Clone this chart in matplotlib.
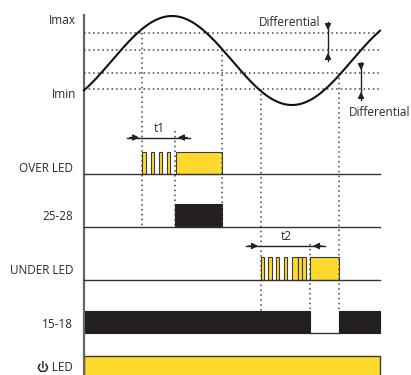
import numpy as np
import matplotlib
matplotlib.use("Agg")
import matplotlib.pyplot as plt
from matplotlib.patches import Rectangle, Arc
from matplotlib import font_manager
from matplotlib.ft2font import FT2Font

# timing of the diagram (time runs left -> right)
t_begin, t_end = 84, 380
t_peak, t_trough = 172, 292

# current levels (screen units, top = high current)
lvl_imax = 33
lvl_imax_off = 50
lvl_imin_off = 73
lvl_imin = 89
wave_high, wave_low = 16, 105

# switching instants
t_over = 142        # current passes Imax
t1_end = 175        # end of t1 delay
t_over_off = 222    # current back below Imax - differential
t_under = 261       # current passes Imin
t2_end = 310        # end of t2 delay
t_under_off = 339   # current back above Imin + differential

over_blink = [142.3, 150.7, 158.5, 166.5]
over_blink_w = [3.5, 3.5, 3.5, 3.5]
under_blink = [260.7, 268.3, 276.0, 284.0, 292.3, 297.7, 302.0]
under_blink_w = [3.4, 3.4, 3.4, 3.4, 5.4, 4.0, 3.7]

row_labels = ["OVER LED", "25-28", "UNDER LED", "15-18", "LED"]
row_label_y = [168, 216, 270, 324, 368]
power_sign = "\u23fb"

yellow = "#FFDA2E"
black = "#231F20"
edge = "#3a3a3a"
grey = "#444444"

plt.rcParams["font.family"] = ["Open Sans", "DejaVu Sans"]

# look for an installed font that has the power sign
power_family = None
for fe in font_manager.fontManager.ttflist:
    try:
        if FT2Font(fe.fname).get_char_index(ord(power_sign)):
            power_family = fe.name
            break
    except Exception:
        pass

fig = plt.figure(figsize=(4.11, 3.75), dpi=100)
ax = fig.add_axes([0, 0, 1, 1])
ax.set_xlim(0, 411)
ax.set_ylim(375, 0)
ax.axis("off")

# vertical axis
ax.plot([t_begin, t_begin], [15, 375], color="#666666", lw=1.6)

# threshold lines
for lv in [lvl_imax, lvl_imax_off, lvl_imin_off, lvl_imin]:
    ax.plot([t_begin, t_end], [lv, lv], color=grey, lw=1.1, ls=(0, (1, 2)))

# current curve
t = np.linspace(t_begin, t_end, 400)
mid = (wave_high + wave_low) / 2
amp = (wave_low - wave_high) / 2
period = 2 * (t_trough - t_peak)
ax.plot(t, mid - amp * np.cos(2 * np.pi * (t - t_peak) / period), color="#111111", lw=1.5)

# vertical dotted event lines
events = [(t_over, lvl_imax, 227), (t1_end, 131, 227), (t_over_off, lvl_imax_off, 227),
          (t_under, lvl_imin, 311), (t2_end, 244, 311), (t_under_off, lvl_imin_off, 311)]
for x, y0, y1 in events:
    ax.plot([x, x], [y0, y1], color=grey, lw=1.1, ls=(0, (1, 2.2)))

# row baselines
for yb in [174, 227, 280]:
    ax.plot([t_begin, t_end], [yb, yb], color="#333333", lw=1)

# OVER LED
for x, w in zip(over_blink, over_blink_w):
    ax.add_patch(Rectangle((x, 152), w, 22, fc=yellow, ec=edge, lw=0.8))
ax.add_patch(Rectangle((t1_end + 1, 152), t_over_off - t1_end - 1, 22, fc=yellow, ec=edge, lw=0.8))

# relay 25-28
ax.add_patch(Rectangle((t1_end, 204), t_over_off - t1_end, 23, fc=black, ec=black, lw=0.8))

# UNDER LED
for x, w in zip(under_blink, under_blink_w):
    ax.add_patch(Rectangle((x, 257), w, 23, fc=yellow, ec=edge, lw=0.8))
ax.add_patch(Rectangle((t2_end, 257), t_under_off - t2_end, 23, fc=yellow, ec=edge, lw=0.8))

# relay 15-18
ax.add_patch(Rectangle((t_begin, 311), t2_end - t_begin, 22, fc=black, ec=black, lw=0.8))
ax.add_patch(Rectangle((t_under_off, 311), t_end - t_under_off, 22, fc=black, ec=black, lw=0.8))
ax.plot([t2_end, t_under_off], [333, 333], color="#333333", lw=1)

# power LED
ax.add_patch(Rectangle((t_begin, 356), t_end - t_begin, 30, fc=yellow, ec=edge, lw=1))

# dimension arrows
def dim_h(x0, x1, y, ext=15):
    ax.plot([x0 - ext, x1 + ext], [y, y], color="#222222", lw=1)
    ax.annotate("", xy=(x0, y), xytext=(x0 - ext, y),
                arrowprops=dict(arrowstyle="-|>", color="#222222", lw=1, mutation_scale=9))
    ax.annotate("", xy=(x1, y), xytext=(x1 + ext, y),
                arrowprops=dict(arrowstyle="-|>", color="#222222", lw=1, mutation_scale=9))

def dim_v(x, y0, y1, ext=11):
    ax.plot([x, x], [y0 - ext, y1 + ext], color="#222222", lw=1)
    ax.annotate("", xy=(x, y0), xytext=(x, y0 - ext),
                arrowprops=dict(arrowstyle="-|>", color="#222222", lw=1, mutation_scale=9))
    ax.annotate("", xy=(x, y1), xytext=(x, y1 + ext),
                arrowprops=dict(arrowstyle="-|>", color="#222222", lw=1, mutation_scale=9))

dim_h(t_over, t1_end, 137.5)
dim_h(t_under, t2_end, 246)
dim_v(328, lvl_imax, lvl_imax_off)
dim_v(361, lvl_imin_off, lvl_imin)

tc = "#2a2a2a"
fs = 8.5
ax.text(76, 20, "Imax", ha="right", va="center", fontsize=fs, color=tc)
ax.text(76, 95, "Imin", ha="right", va="center", fontsize=fs, color=tc)
ax.text(290, 22, "Differential", ha="center", va="center", fontsize=fs, color=tc)
ax.text(380, 112, "Differential", ha="center", va="center", fontsize=fs, color=tc)
ax.text(159, 128, "t1", ha="center", va="center", fontsize=fs, color=tc)
ax.text(286, 237, "t2", ha="center", va="center", fontsize=fs, color=tc)
for lab, y in zip(row_labels[:-1], row_label_y[:-1]):
    ax.text(73, y, lab, ha="right", va="center", fontsize=fs, color=tc)

# power LED label: sign as text if a font has it, otherwise drawn as a shape
if power_family:
    ax.text(73, row_label_y[-1], power_sign + " " + row_labels[-1], ha="right", va="center",
            fontsize=fs, color=tc, family=["Open Sans", power_family])
else:
    ax.text(73, row_label_y[-1], row_labels[-1], ha="right", va="center", fontsize=fs, color=tc)
    cx, cy, r = 46, row_label_y[-1] + 0.5, 3.4
    ax.add_patch(Arc((cx, cy), 2 * r, 2 * r, theta1=-240, theta2=60, color=tc, lw=0.8))
    ax.plot([cx, cx], [cy - r - 0.8, cy], color=tc, lw=0.8)

fig.savefig("out.png", dpi=100)
